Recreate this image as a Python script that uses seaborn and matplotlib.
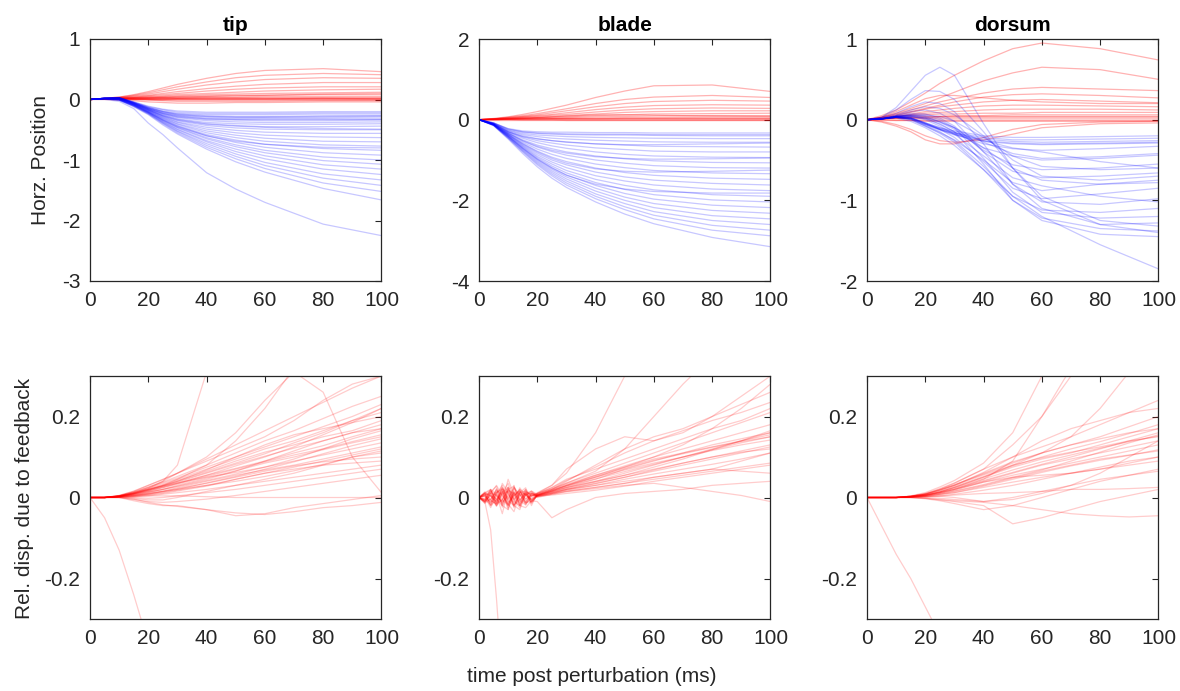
import numpy as np
import pandas as pd
import matplotlib
matplotlib.use("Agg")
import matplotlib.pyplot as plt
import seaborn as sns

# ---------------- data ----------------
T_TOP = [0, 5, 10, 15, 20, 25, 30, 40, 50, 60, 80, 100]
T_BOT = [0, 5, 10, 15, 20, 25, 30, 40, 50, 60, 70, 80, 90, 100]
T_BOT_BLADE = [0, 2, 4, 6, 8, 10, 12, 14, 16, 18, 20, 25, 30, 40, 50, 60, 70, 80, 90, 100]

PANELS = ["tip", "blade", "dorsum"]
TOP_YLIM = [(-3, 1), (-4, 2), (-2, 1)]
TOP_YTICKS = [[-3, -2, -1, 0, 1], [-4, -2, 0, 2], [-2, -1, 0, 1]]
BOT_YTICKS = [-0.2, 0, 0.2]
BOT_YTICKLABELS = ["-0.2", "0", "0.2"]
XTICKS = [0, 20, 40, 60, 80, 100]

TIP_RED = [
    [0, .02, .04, .08, .13, .19, .25, .35, .43, .48, .51, .46],
    [0, .02, .04, .07, .11, .16, .21, .29, .36, .40, .43, .41],
    [0, .02, .03, .06, .09, .13, .17, .24, .29, .33, .36, .35],
    [0, .01, .03, .05, .07, .10, .13, .18, .22, .25, .28, .28],
    [0, .01, .03, .04, .06, .08, .10, .14, .17, .19, .21, .21],
    [0, .01, .02, .03, .05, .06, .08, .10, .12, .14, .16, .17],
    [0, .01, .02, .03, .04, .05, .06, .08, .09, .10, .11, .12],
    [0, .01, .02, .03, .03, .04, .05, .06, .07, .07, .08, .08],
    [0, .01, .02, .02, .02, .03, .03, .04, .04, .05, .05, .05],
    [0, .01, .02, .02, .02, .02, .02, .03, .03, .03, .03, .03],
    [0, .01, .01, .01, .01, .01, .01, .01, .01, .01, .02, .02],
    [0, .01, .01, .01, 0, 0, 0, 0, 0, 0, 0, 0],
    [0, .01, .01, 0, 0, -.01, -.01, -.01, -.01, -.01, -.01, -.01],
    [0, .01, .01, 0, -.01, -.02, -.03, -.03, -.03, -.03, -.02, -.02],
    [0, 0, -.01, -.02, -.04, -.05, -.06, -.06, -.05, -.05, -.04, -.04],
    [0, .01, .02, .02, .03, .03, .04, .05, .06, .07, .09, .10],
    [0, .01, .01, .01, .02, .02, .02, .02, .02, .02, .02, .01],
    [0, .01, .01, 0, 0, 0, .01, .01, .01, .01, .01, .01],
]
TIP_BLUE = [
    [0, .02, .03, -.04, -.11, -.16, -.19, -.21, -.21, -.21, -.20, -.20],
    [0, .02, .03, -.04, -.12, -.17, -.21, -.23, -.23, -.23, -.22, -.22],
    [0, .02, .03, -.05, -.13, -.19, -.23, -.25, -.25, -.25, -.24, -.24],
    [0, .02, .03, -.05, -.14, -.20, -.24, -.27, -.28, -.28, -.27, -.27],
    [0, .02, .03, -.05, -.14, -.21, -.26, -.29, -.30, -.30, -.30, -.29],
    [0, .02, .03, -.06, -.15, -.22, -.27, -.31, -.32, -.32, -.32, -.32],
    [0, .02, .02, -.06, -.15, -.23, -.29, -.33, -.34, -.35, -.35, -.34],
    [0, .02, .02, -.06, -.16, -.24, -.30, -.35, -.37, -.38, -.38, -.37],
    [0, .02, .02, -.06, -.16, -.25, -.32, -.38, -.40, -.41, -.41, -.40],
    [0, .02, .02, -.07, -.17, -.26, -.33, -.40, -.43, -.45, -.45, -.44],
    [0, .02, .02, -.07, -.17, -.27, -.35, -.43, -.47, -.49, -.50, -.50],
    [0, .02, .02, -.07, -.18, -.28, -.37, -.46, -.51, -.54, -.56, -.56],
    [0, .02, .01, -.08, -.18, -.29, -.38, -.49, -.55, -.59, -.62, -.63],
    [0, .02, .01, -.08, -.19, -.30, -.40, -.52, -.59, -.64, -.69, -.70],
    [0, .02, .01, -.08, -.19, -.31, -.41, -.55, -.63, -.69, -.75, -.77],
    [0, .02, .01, -.08, -.20, -.32, -.43, -.58, -.67, -.74, -.81, -.84],
    [0, .01, .01, -.09, -.20, -.33, -.44, -.60, -.71, -.79, -.88, -.92],
    [0, .01, 0, -.09, -.21, -.34, -.46, -.63, -.75, -.84, -.95, -1.00],
    [0, .01, 0, -.09, -.21, -.35, -.47, -.65, -.78, -.88, -1.01, -1.07],
    [0, .01, 0, -.10, -.22, -.36, -.49, -.68, -.82, -.93, -1.08, -1.15],
    [0, .01, 0, -.10, -.22, -.37, -.50, -.70, -.86, -.98, -1.15, -1.24],
    [0, .01, -.01, -.10, -.23, -.38, -.52, -.73, -.90, -1.04, -1.23, -1.33],
    [0, .01, -.01, -.11, -.23, -.39, -.53, -.76, -.94, -1.09, -1.30, -1.42],
    [0, .01, -.01, -.11, -.24, -.40, -.55, -.79, -.98, -1.14, -1.38, -1.52],
    [0, .01, -.01, -.12, -.25, -.42, -.57, -.82, -1.03, -1.20, -1.47, -1.66],
    [0, 0, -.03, -.15, -.39, -.58, -.80, -1.21, -1.48, -1.70, -2.06, -2.25],
    [0, .02, .03, -.05, -.13, -.20, -.25, -.28, -.29, -.29, -.28, -.27],
    [0, .02, .02, -.06, -.15, -.23, -.28, -.32, -.33, -.33, -.33, -.33],
    [0, .02, .02, -.07, -.17, -.27, -.34, -.41, -.44, -.46, -.48, -.49],
    [0, .01, 0, -.09, -.21, -.34, -.45, -.60, -.69, -.74, -.79, -.80],
]

BLADE_RED = [
    [0, .03, .07, .13, .20, .28, .36, .55, .71, .84, .86, .70],
    [0, .02, .06, .10, .15, .21, .27, .40, .50, .56, .60, .55],
    [0, .02, .05, .08, .12, .17, .22, .32, .40, .45, .48, .46],
    [0, .02, .04, .07, .10, .13, .17, .25, .31, .35, .37, .36],
    [0, .02, .04, .06, .08, .11, .13, .19, .24, .27, .29, .28],
    [0, .01, .03, .05, .06, .08, .10, .14, .18, .20, .22, .22],
    [0, .01, .02, .04, .05, .06, .07, .10, .12, .14, .15, .16],
    [0, .01, .02, .03, .04, .04, .05, .07, .08, .09, .10, .10],
    [0, .01, .02, .02, .03, .03, .03, .04, .05, .05, .06, .06],
    [0, .01, .01, .02, .02, .02, .02, .02, .03, .03, .03, .03],
    [0, 0, .01, .01, .01, .01, .01, .01, .01, .01, .01, .01],
    [0, 0, 0, 0, 0, 0, 0, 0, 0, 0, 0, 0],
    [0, 0, 0, -.01, -.01, -.01, -.02, -.02, -.02, -.02, -.02, -.02],
    [0, .01, .02, .03, .05, .07, .09, .12, .12, .11, .09, .08],
    [0, 0, .01, .01, .01, .02, .02, .02, .02, .02, .02, .02],
]
BLADE_BLUE = [
    [0, -.08, -.22, -.28, -.30, -.31, -.31, -.32, -.32, -.33, -.33, -.33],
    [0, -.08, -.24, -.31, -.34, -.36, -.37, -.38, -.38, -.39, -.40, -.40],
    [0, -.09, -.26, -.34, -.38, -.40, -.42, -.44, -.45, -.46, -.47, -.47],
    [0, -.09, -.27, -.37, -.42, -.46, -.48, -.51, -.53, -.55, -.56, -.56],
    [0, -.10, -.29, -.40, -.47, -.52, -.56, -.60, -.63, -.66, -.67, -.68],
    [0, -.10, -.30, -.43, -.52, -.58, -.63, -.70, -.74, -.78, -.80, -.80],
    [0, -.10, -.31, -.46, -.57, -.65, -.71, -.80, -.86, -.90, -.93, -.94],
    [0, -.11, -.33, -.50, -.63, -.72, -.80, -.90, -.97, -1.02, -1.06, -1.07],
    [0, -.11, -.34, -.53, -.68, -.79, -.88, -1.00, -1.08, -1.14, -1.19, -1.20],
    [0, -.11, -.35, -.56, -.73, -.86, -.96, -1.10, -1.19, -1.26, -1.32, -1.34],
    [0, -.12, -.36, -.59, -.78, -.93, -1.04, -1.20, -1.31, -1.38, -1.45, -1.48],
    [0, -.12, -.37, -.62, -.83, -1.00, -1.12, -1.30, -1.42, -1.50, -1.58, -1.62],
    [0, -.12, -.38, -.64, -.87, -1.05, -1.19, -1.39, -1.52, -1.62, -1.72, -1.76],
    [0, -.12, -.39, -.66, -.91, -1.10, -1.26, -1.48, -1.63, -1.74, -1.86, -1.90],
    [0, -.13, -.40, -.68, -.94, -1.15, -1.32, -1.56, -1.73, -1.86, -1.99, -2.04],
    [0, -.13, -.41, -.70, -.97, -1.19, -1.37, -1.63, -1.83, -1.97, -2.12, -2.18],
    [0, -.13, -.42, -.72, -1.00, -1.23, -1.42, -1.70, -1.92, -2.08, -2.25, -2.32],
    [0, -.13, -.43, -.74, -1.03, -1.27, -1.47, -1.77, -2.00, -2.18, -2.38, -2.46],
    [0, -.14, -.44, -.76, -1.06, -1.31, -1.52, -1.84, -2.08, -2.28, -2.50, -2.60],
    [0, -.14, -.45, -.78, -1.09, -1.35, -1.57, -1.90, -2.16, -2.37, -2.62, -2.74],
    [0, -.14, -.46, -.80, -1.12, -1.39, -1.62, -1.96, -2.23, -2.46, -2.74, -2.88],
    [0, -.15, -.48, -.84, -1.17, -1.45, -1.68, -2.04, -2.34, -2.58, -2.92, -3.15],
    [0, -.10, -.30, -.42, -.48, -.52, -.55, -.60, -.62, -.62, -.60, -.58],
    [0, -.11, -.33, -.52, -.66, -.76, -.83, -.92, -.96, -.98, -.97, -.95],
    [0, -.08, -.23, -.30, -.33, -.34, -.35, -.36, -.36, -.37, -.37, -.37],
    [0, -.12, -.37, -.60, -.80, -.96, -1.08, -1.22, -1.28, -1.30, -1.28, -1.25],
    [0, -.13, -.41, -.71, -.98, -1.20, -1.38, -1.60, -1.72, -1.78, -1.82, -1.82],
]

DORSUM_RED = [
    [0, .05, .12, .22, .33, .45, .55, .73, .88, .95, .88, .74],
    [0, .03, .08, .14, .20, .27, .34, .48, .58, .65, .62, .50],
    [0, .03, .07, .12, .17, .22, .26, .33, .38, .40, .38, .36],
    [0, .02, .06, .10, .14, .18, .22, .28, .31, .32, .30, .27],
    [0, .02, .05, .09, .13, .16, .18, .22, .24, .25, .23, .21],
    [0, .02, .04, .07, .10, .12, .14, .17, .18, .18, .17, .16],
    [0, .02, .04, .06, .08, .09, .10, .12, .13, .13, .13, .12],
    [0, .01, .03, .05, .06, .07, .07, .08, .08, .09, .09, .09],
    [0, .01, .02, .03, .04, .04, .05, .05, .06, .06, .06, .06],
    [0, .01, .02, .02, .02, .03, .03, .03, .03, .03, .03, .03],
    [0, .01, .01, .01, .01, .01, .01, .01, .01, .01, .01, .01],
    [0, 0, 0, 0, 0, 0, 0, 0, 0, 0, 0, 0],
    [0, 0, -.01, -.01, -.02, -.02, -.02, -.02, -.02, -.02, -.02, -.02],
    [0, -.03, -.08, -.15, -.25, -.30, -.30, -.22, -.12, -.06, -.03, -.02],
    [0, -.02, -.06, -.12, -.20, -.26, -.28, -.25, -.18, -.10, -.05, -.04],
    [0, .03, .10, .18, .26, .30, .30, .27, .24, .22, .20, .20],
    [0, .01, .02, .03, .03, .04, .04, .04, .04, .04, .04, .04],
]
DORSUM_BLUE = [
    [0, .01, .03, .02, -.04, -.10, -.14, -.20, -.22, -.22, -.21, -.20],
    [0, .01, .03, .02, -.05, -.11, -.16, -.22, -.25, -.25, -.24, -.23],
    [0, .01, .03, .01, -.06, -.12, -.17, -.24, -.27, -.28, -.27, -.26],
    [0, .01, .03, .01, -.06, -.13, -.19, -.27, -.30, -.31, -.30, -.29],
    [0, .01, .04, .02, -.05, -.12, -.18, -.30, -.36, -.38, -.36, -.33],
    [0, .01, .04, .05, .02, -.06, -.15, -.35, -.45, -.50, -.48, -.44],
    [0, .01, .04, .06, .04, -.03, -.12, -.38, -.56, -.62, -.60, -.55],
    [0, .01, .05, .08, .07, .02, -.08, -.40, -.64, -.72, -.70, -.66],
    [0, .01, .03, 0, -.08, -.16, -.25, -.50, -.78, -.88, -.80, -.75],
    [0, .01, .04, .03, -.04, -.12, -.22, -.52, -.85, -.98, -.92, -.85],
    [0, .01, .05, .10, .12, .08, -.02, -.40, -.80, -1.02, -1.05, -.98],
    [0, .01, .03, .01, -.07, -.15, -.26, -.58, -.95, -1.12, -1.15, -1.10],
    [0, .01, .04, .06, .05, 0, -.10, -.48, -.90, -1.15, -1.22, -1.20],
    [0, .02, .08, .16, .22, .20, .10, -.30, -.80, -1.10, -1.30, -1.28],
    [0, .01, .03, 0, -.08, -.17, -.28, -.62, -1.00, -1.22, -1.35, -1.38],
    [0, .01, .04, .04, .01, -.05, -.15, -.55, -1.00, -1.25, -1.42, -1.45],
    [0, .03, .12, .25, .36, .35, .25, -.15, -.60, -.95, -1.25, -1.32],
    [0, .03, .15, .35, .55, .65, .55, -.05, -.60, -1.00, -1.30, -1.40],
    [0, .01, .02, -.02, -.10, -.20, -.32, -.62, -.95, -1.20, -1.55, -1.85],
    [0, .01, .04, .05, .03, -.02, -.10, -.35, -.60, -.75, -.80, -.78],
    [0, .01, .03, .04, .02, -.03, -.10, -.28, -.42, -.48, -.46, -.42],
    [0, .02, .06, .12, .16, .14, .06, -.20, -.50, -.70, -.75, -.70],
    [0, .01, .03, .02, -.04, -.10, -.16, -.26, -.35, -.40, -.52, -.60],
    [0, .01, .04, .06, .06, .04, -.02, -.22, -.45, -.58, -.62, -.60],
    [0, .01, .03, .02, -.05, -.12, -.18, -.26, -.29, -.30, -.29, -.28],
    [0, .01, .04, .04, 0, -.08, -.18, -.45, -.72, -.82, -.95, -1.02],
]

TIP_FB = [
    [0, 0, .002, .005, .01, .015, .02, .03, .045, .06, .075, .09, .105, .12],
    [0, 0, .002, .006, .012, .02, .027, .042, .058, .075, .09, .105, .12, .135],
    [0, 0, .003, .008, .015, .024, .033, .052, .07, .088, .105, .12, .138, .155],
    [0, 0, .003, .01, .018, .028, .038, .06, .082, .102, .122, .14, .16, .18],
    [0, 0, .004, .012, .022, .033, .045, .07, .095, .12, .14, .165, .19, .21],
    [0, 0, .004, .014, .026, .038, .052, .08, .11, .14, .165, .195, .225, .25],
    [0, 0, .005, .016, .03, .044, .06, .095, .13, .165, .2, .235, .27, .3],
    [0, 0, .001, .002, .004, .008, .012, .02, .03, .04, .05, .06, .07, .08],
    [0, 0, .001, 0, -.002, 0, .004, .012, .02, .03, .04, .05, .06, .07],
    [0, 0, 0, -.005, -.01, -.012, -.01, -.004, .005, .015, .025, .035, .045, .055],
    [0, 0, 0, -.008, -.015, -.02, -.02, -.03, -.045, -.04, -.025, -.015, -.005, .005],
    [0, 0, 0, -.004, -.012, -.018, -.022, -.03, -.038, -.042, -.035, -.025, -.02, -.012],
    [0, 0, 0, .002, .004, .004, .004, .002, 0, 0, 0, 0, 0, 0],
    [0, 0, .003, .01, .022, .04, .08, .31, .42, .5, .55, .6, .62, .64],
    [0, 0, .003, .01, .02, .03, .045, .08, .14, .22, .32, .4, .45, .5],
    [0, 0, .004, .012, .025, .04, .06, .1, .16, .24, .31, .26, .1, .012],
    [0, -.05, -.13, -.24, -.36, -.48, -.6, -.8, -1.0, -1.2, -1.4, -1.6, -1.8, -2.0],
    [0, 0, .003, .009, .018, .028, .04, .068, .1, .13, .155, .17, .185, .2],
    [0, 0, .003, .008, .014, .02, .028, .045, .065, .09, .115, .14, .16, .17],
    [0, 0, .002, .006, .01, .016, .024, .04, .055, .068, .08, .095, .11, .125],
    [0, 0, .004, .012, .02, .028, .036, .05, .062, .075, .095, .12, .145, .165],
    [0, 0, .002, .004, .008, .015, .022, .035, .05, .065, .078, .088, .095, .1],
    [0, 0, .003, .009, .016, .025, .035, .055, .078, .1, .125, .155, .185, .22],
    [0, 0, .001, -.002, -.006, -.006, 0, .015, .03, .045, .06, .08, .1, .115],
    [0, 0, .005, .015, .03, .045, .06, .09, .12, .15, .19, .24, .28, .3],
    [0, 0, .002, .007, .013, .02, .03, .048, .066, .085, .1, .118, .135, .15],
    [0, 0, .003, .01, .019, .03, .042, .065, .09, .112, .13, .15, .165, .19],
    [0, 0, .002, .005, .009, .014, .02, .036, .052, .07, .088, .108, .128, .145],
    [0, 0, .004, .013, .024, .036, .048, .075, .1, .125, .15, .175, .2, .23],
    [0, 0, .001, .003, .007, .012, .018, .03, .04, .052, .066, .082, .1, .11],
    [0, 0, .003, .009, .017, .026, .035, .055, .072, .09, .11, .128, .15, .17],
    [0, 0, .002, .004, .006, .01, .016, .028, .045, .06, .07, .08, .085, .09],
    [0, 0, .004, .011, .02, .03, .04, .062, .085, .108, .135, .16, .19, .22],
]

BLADE_FB = [
    [0, .004, -.012, .018, .006, -.02, .01, .015, -.004, .006, .002, .012, .02, .035, .05, .065, .08, .095, .11, .125],
    [0, -.01, .006, -.004, .022, .01, -.018, .004, .012, -.006, .005, .015, .025, .04, .055, .07, .085, .1, .115, .13],
    [0, .012, .02, -.015, -.006, .025, -.01, -.02, .008, .01, .006, .018, .03, .05, .068, .085, .1, .12, .14, .16],
    [0, -.004, -.018, .01, .03, -.012, .004, .018, -.015, -.002, .008, .02, .033, .055, .078, .1, .12, .14, .16, .18],
    [0, .006, .014, .028, -.02, -.03, .012, -.006, .01, -.012, .004, .01, .018, .03, .045, .058, .07, .082, .095, .11],
    [0, -.008, .004, -.022, .012, .035, -.004, -.025, .006, .014, 0, .008, .015, .025, .035, .045, .055, .065, .075, .085],
    [0, .002, -.025, .006, -.04, .02, .028, -.008, -.018, .004, .01, .022, .036, .06, .085, .11, .135, .16, .185, .21],
    [0, -.014, .01, .03, .004, -.016, -.035, .012, .024, -.01, .006, .014, .024, .04, .06, .08, .1, .118, .135, .15],
    [0, .008, -.006, -.018, .035, .012, -.02, -.03, .01, .016, .003, .006, .01, .018, .028, .04, .05, .06, .07, .08],
    [0, -.006, .016, .004, -.01, .045, .006, -.02, -.025, -.008, -.01, -.05, -.03, 0, .01, .015, .02, .03, .035, .04],
    [0, .01, -.02, .012, .024, -.004, .025, .006, -.012, -.01, .01, .025, .045, .07, .095, .12, .145, .17, .19, .22],
    [0, -.01, -.004, .015, -.018, .026, -.006, .024, .004, .016, .008, .02, .035, .065, .12, .2, .28, .35, .4, .45],
    [0, .012, .004, -.012, .02, -.02, .014, -.016, .02, .002, .012, .03, .06, .16, .3, .4, .5, .55, .6, .62],
    [0, -.006, .02, .008, -.012, .004, -.022, .01, -.018, .006, .004, .016, .028, .05, .075, .1, .13, .17, .22, .28],
    [0, .014, -.008, -.015, .018, -.025, .006, .012, .016, -.008, .004, .01, .016, .025, .035, .05, .06, .07, .065, .06],
    [0, -.01, -.08, -.25, -.45, -.65, -.85, -1.0, -1.1, -1.2, -1.3, -1.4, -1.5, -1.6, -1.7, -1.8, -1.9, -2.0, -2.1, -2.2],
    [0, .004, -.012, .022, -.006, -.018, .015, -.02, .012, -.015, .006, .02, .04, .08, .12, .15, .17, .2, .23, .26],
    [0, -.012, .015, -.004, -.02, .02, .004, .02, -.012, .008, .004, .012, .02, .03, .04, .05, .06, .07, .09, .11],
    [0, .01, -.02, -.006, .015, -.03, .025, .004, .02, -.02, .01, .03, .07, .12, .15, .14, .16, .2, .25, .3],
    [0, -.004, .02, -.015, .01, .025, -.025, .015, -.004, .012, .006, .016, .03, .055, .075, .095, .11, .125, .14, .155],
    [0, .01, .004, -.01, .025, -.006, .03, -.02, .01, -.012, .005, .015, .025, .045, .07, .09, .11, .13, .145, .16],
    [0, -.01, .01, .006, -.015, .015, -.004, .01, -.01, .01, .002, .008, .014, .022, .03, .035, .025, .015, .005, -.01],
    [0, .006, -.016, .012, .02, -.008, -.02, .014, .006, -.004, .006, .018, .03, .052, .072, .092, .108, .124, .138, .15],
    [0, -.008, .012, -.02, -.004, .018, .01, -.012, .016, .004, .007, .017, .028, .046, .064, .082, .1, .116, .13, .142],
    [0, .01, .018, -.008, .014, -.016, .022, -.004, -.014, .01, .005, .013, .022, .038, .055, .075, .095, .118, .14, .165],
    [0, -.014, -.004, .02, -.024, .008, -.012, .02, .006, -.006, .003, .01, .02, .034, .05, .068, .085, .1, .112, .12],
    [0, .006, .01, -.02, .008, .016, -.018, -.006, .014, .008, .009, .024, .042, .075, .11, .14, .165, .19, .21, .235],
]

DORSUM_FB = [
    [0, 0, 0, .001, .003, .008, .015, .03, .048, .065, .08, .095, .105, .115],
    [0, 0, 0, .002, .005, .012, .02, .04, .06, .08, .095, .11, .125, .14],
    [0, 0, 0, .002, .006, .014, .025, .05, .075, .095, .11, .13, .15, .17],
    [0, 0, 0, .003, .008, .018, .03, .06, .088, .11, .13, .15, .175, .2],
    [0, 0, 0, .003, .01, .022, .036, .07, .1, .125, .15, .18, .21, .24],
    [0, 0, 0, .001, .002, .004, .008, .018, .03, .045, .06, .075, .09, .1],
    [0, 0, 0, 0, 0, -.002, -.005, -.01, 0, .015, .03, .045, .055, .065],
    [0, 0, 0, 0, -.003, -.008, -.015, -.03, -.02, 0, .02, .04, .055, .07],
    [0, 0, 0, 0, -.002, -.006, -.01, -.02, -.065, -.05, -.03, -.01, .005, .02],
    [0, 0, 0, .001, .002, .004, .006, .01, .012, .015, .02, .02, .022, .025],
    [0, 0, 0, 0, -.002, -.005, -.008, -.012, -.02, -.03, -.04, -.045, -.048, -.045],
    [0, 0, 0, .002, .005, .012, .02, .045, .09, .2, .32, .4, .45, .5],
    [0, 0, 0, .003, .008, .02, .035, .07, .13, .2, .3, .38, .45, .5],
    [0, 0, 0, .002, .006, .014, .025, .05, .08, .11, .15, .22, .31, .4],
    [0, -.07, -.14, -.2, -.27, -.34, -.4, -.55, -.7, -.85, -1.0, -1.15, -1.3, -1.45],
    [0, 0, 0, .003, .009, .02, .032, .058, .085, .11, .13, .145, .16, .17],
    [0, 0, 0, .002, .006, .013, .022, .042, .062, .082, .1, .12, .14, .16],
    [0, 0, 0, .002, .004, .008, .012, .025, .038, .05, .06, .07, .08, .09],
    [0, 0, 0, .001, .004, .01, .018, .038, .055, .07, .085, .1, .115, .13],
    [0, 0, 0, .003, .008, .018, .03, .062, .1, .14, .17, .19, .21, .22],
    [0, 0, 0, .002, .006, .012, .02, .038, .05, .055, .06, .07, .085, .1],
    [0, 0, 0, .004, .012, .026, .042, .085, .16, .3, .38, .42, .45, .48],
    [0, 0, 0, .001, .002, .003, 0, -.01, -.005, .01, .03, .06, .1, .14],
    [0, 0, 0, .002, .006, .014, .024, .046, .068, .088, .105, .122, .138, .152],
    [0, 0, 0, .003, .008, .016, .027, .052, .078, .1, .12, .138, .158, .18],
    [0, 0, 0, .001, .003, .007, .012, .028, .045, .062, .078, .092, .104, .118],
    [0, 0, 0, .002, .005, .01, .016, .032, .05, .068, .09, .112, .135, .155],
    [0, 0, 0, .003, .009, .019, .03, .056, .08, .098, .112, .125, .14, .15],
]

TOP_RED = [TIP_RED, BLADE_RED, DORSUM_RED]
TOP_BLUE = [TIP_BLUE, BLADE_BLUE, DORSUM_BLUE]
BOT_RED = [TIP_FB, BLADE_FB, DORSUM_FB]
BOT_T = [T_BOT, T_BOT_BLADE, T_BOT]

# ---------------- style ----------------
sns.set_theme(style="white")
plt.rcParams["font.family"] = ["Liberation Sans", "DejaVu Sans"]
plt.rcParams["axes.unicode_minus"] = False
INK = "#262626"
FS = 15


def to_df(t, lines):
    rows = []
    for i, ln in enumerate(lines):
        for tt, v in zip(t, ln):
            rows.append((i, tt, v))
    return pd.DataFrame(rows, columns=["id", "t", "v"])


def draw(ax, t, lines, color, alpha, lw=0.9):
    sns.lineplot(data=to_df(t, lines), x="t", y="v", units="id", estimator=None,
                 color=color, alpha=alpha, linewidth=lw, ax=ax, legend=False, sort=False)


def style(ax):
    ax.set_xlim(0, 100)
    ax.set_xticks(XTICKS)
    ax.set_xticklabels([str(x) for x in XTICKS])
    ax.set_xlabel("")
    ax.set_ylabel("")
    for s in ax.spines.values():
        s.set_visible(True)
        s.set_color(INK)
        s.set_linewidth(0.9)
    ax.tick_params(direction="in", top=True, right=True, length=4, width=0.8,
                   color=INK, labelcolor=INK, labelsize=FS, pad=7)
    ax.set_facecolor("white")


fig = plt.figure(figsize=(11.8, 6.91), dpi=100)
lefts = [90 / 1180, 479 / 1180, 867 / 1180]
W = 0.247
top_b, top_h = 1 - 281 / 691, 242 / 691
bot_b, bot_h = 1 - 619 / 691, 243 / 691

for i in range(3):
    ax = fig.add_axes([lefts[i], top_b, W, top_h])
    draw(ax, T_TOP, TOP_RED[i], (1, 0, 0), 0.3)
    draw(ax, T_TOP, TOP_BLUE[i], (0, 0, 1), 0.22)
    style(ax)
    ax.set_ylim(*TOP_YLIM[i])
    ax.set_yticks(TOP_YTICKS[i])
    ax.set_yticklabels([str(v) for v in TOP_YTICKS[i]])
    ax.set_title(PANELS[i], fontsize=FS, fontweight="bold", color="black", pad=6)

    axb = fig.add_axes([lefts[i], bot_b, W, bot_h])
    draw(axb, BOT_T[i], BOT_RED[i], (1, 0, 0), 0.2)
    style(axb)
    axb.set_ylim(-0.3, 0.3)
    axb.set_yticks(BOT_YTICKS)
    axb.set_yticklabels(BOT_YTICKLABELS)

fig.text(0.034, 1 - 160 / 691, "Horz. Position", rotation=90, ha="center", va="center",
         fontsize=FS, color=INK)
fig.text(0.021, 1 - 498 / 691, "Rel. disp. due to feedback", rotation=90, ha="center",
         va="center", fontsize=FS, color=INK)
fig.text(592 / 1180, 1 - 677 / 691, "time post perturbation (ms)", ha="center", va="center",
         fontsize=FS, color=INK)

fig.savefig("out.png", dpi=100)
